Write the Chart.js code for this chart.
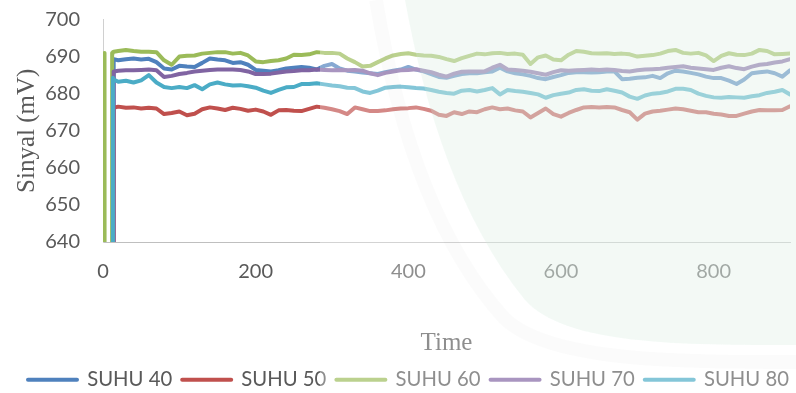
<!DOCTYPE html>
<html>
<head>
<meta charset="utf-8">
<script src="https://cdn.jsdelivr.net/npm/chart.js@4.4.1/dist/chart.umd.min.js"></script>
<style>
  html, body { margin: 0; padding: 0; background: #ffffff; overflow: hidden; }
  #wrap { width: 796px; height: 400px; position: relative; }
</style>
</head>
<body>
<div id="wrap"><canvas id="signal" width="796" height="400"></canvas></div>
<script>
// Sensor signal (mV) logged over time at five temperature settings.
const seriesNames = ['SUHU 40', 'SUHU 50', 'SUHU 60', 'SUHU 70', 'SUHU 80'];

const time = [0, 2, 3, 11, 12, 13, 14,
  20, 30, 40, 50, 60, 70, 80, 90, 100,
  110, 120, 130, 140, 150, 160, 170, 180, 190, 200,
  210, 220, 230, 240, 250, 260, 270, 280, 290, 300,
  310, 320, 330, 340, 350, 360, 370, 380, 390, 400,
  410, 420, 430, 440, 450, 460, 470, 480, 490, 500,
  510, 520, 530, 540, 550, 560, 570, 580, 590, 600,
  610, 620, 630, 640, 650, 660, 670, 680, 690, 700,
  710, 720, 730, 740, 750, 760, 770, 780, 790, 800,
  810, 820, 830, 840, 850, 860, 870, 880, 890, 900];

const suhu40 = [0, 0, 0, 0, 0, 0, 689.3,
  689, 689.3, 689.5, 689.2, 689.4, 688.5, 686.8, 686.5, 687.5,
  687.3, 687.2, 688.3, 689.5, 689.2, 689, 688.3, 688.5, 687.8, 686.4,
  686.2, 686, 686.3, 686.8, 687, 687.2, 687, 686.5, 687.5, 688,
  686.8, 686.2, 686, 685.7, 685.5, 685.3, 685.8, 686.2, 686.5, 687.2,
  686.5, 686, 685.3, 684.5, 684.3, 684.8, 685.3, 685.5, 685.5, 685.8,
  686, 687, 686, 685.5, 685.2, 684.8, 684.2, 683.9, 684.5, 685,
  685.6, 685.8, 685.8, 685.7, 685.8, 686, 686, 683.9, 684, 684.3,
  684.4, 684.8, 684.2, 685.5, 686.2, 686, 685.6, 685.2, 684.6, 684.2,
  684.2, 683.5, 682.6, 683.8, 685.5, 685.8, 686, 685.5, 684.6, 686.3];

const suhu50 = [0, 0, 0, 0, 0, 0, 676.2,
  676.5, 676.2, 676.3, 676, 676.2, 676, 674.5, 674.8, 675.2,
  674.2, 674.6, 675.8, 676.3, 676, 675.6, 676.2, 675.9, 675.4, 675.7,
  675.2, 674.3, 675.5, 675.6, 675.4, 675.3, 675.9, 676.5, 676.2, 675.8,
  675.3, 674.5, 676.3, 675.8, 675.3, 675.3, 675.5, 675.8, 676, 676.1,
  676.3, 675.9, 675.4, 674.3, 674, 675, 674.5, 675.2, 675, 675.8,
  676.3, 675.8, 676, 675.5, 675.2, 673.6, 674.8, 676, 674.5, 673.8,
  674.8, 675.6, 676.3, 676.4, 676.3, 676.4, 676.3, 675.6, 675, 673,
  674.6, 675.2, 675.4, 675.7, 676, 675.8, 675.4, 675, 675, 674.6,
  674.4, 674, 674, 674.6, 675.2, 675.6, 675.5, 675.5, 675.6, 676.6];

const suhu60 = [0, 691, 0, 0, 691, 691.2, 691.3,
  691.5, 691.8, 691.5, 691.3, 691.3, 691.2, 689, 687.8, 690,
  690.2, 690.3, 690.8, 691, 691.2, 691.2, 690.8, 691, 690.3, 688.7,
  688.5, 688.8, 689, 689.5, 690.5, 690.4, 690.6, 691.2, 691, 691,
  690.8, 689.5, 688.5, 687.3, 687.5, 688.5, 689.5, 690.3, 690.7, 690.9,
  690.5, 690.3, 690.2, 689.9, 689.3, 688.8, 689.6, 690.2, 690.8, 690.6,
  690.9, 691, 690.7, 690.8, 690.5, 688, 689.8, 690.3, 689.2, 689,
  690.5, 691.5, 691.3, 690.9, 690.8, 690.9, 690.7, 690.8, 690.6, 690,
  690.2, 690.4, 690.8, 691.5, 691.8, 691, 690.8, 691, 690.3, 688.8,
  690.2, 690.9, 690.5, 690.4, 690.8, 691.8, 691.5, 690.6, 690.7, 690.8];

const suhu70 = [0, 0, 0, 0, 0, 0, 686,
  686.2, 686.3, 686.3, 686.4, 686.5, 686.3, 684.5, 684.8, 685.3,
  685.6, 686, 686.2, 686.4, 686.5, 686.5, 686.5, 686.4, 686, 685.3,
  685.3, 685.4, 685.7, 686, 686.1, 686.3, 686.3, 686.5, 686.4, 686.3,
  686.4, 686.3, 686.4, 686.2, 685.5, 685, 685.6, 686, 686.3, 686.4,
  686.6, 686.2, 685.8, 685.1, 684.6, 685.4, 685.9, 686, 686, 686,
  687, 687.8, 686.5, 686.4, 686.2, 685.9, 685.5, 685.1, 685.8, 686.3,
  686.2, 686.3, 686.4, 686.5, 686.4, 686.5, 686.4, 686.1, 686, 686.3,
  686.5, 686.6, 686.7, 687, 687.2, 687.4, 687, 686.8, 686.6, 686.4,
  687, 687.4, 686.9, 686.6, 687.3, 687.8, 688, 688.4, 688.7, 689.3];

const suhu80 = [0, 0, 0, 0, 0, 684.3, 683.8,
  683.2, 683.5, 683, 683.6, 685, 683, 681.8, 681.5, 681.8,
  681.5, 682.3, 681.2, 682.5, 683, 682.5, 682.2, 682.3, 682, 681.6,
  680.8, 680.2, 681, 681.7, 681.8, 682.6, 682.6, 682.8, 682.5, 682.2,
  682, 681.6, 681.5, 680.6, 680.2, 680.8, 681.6, 681.8, 681.9, 681.7,
  681.5, 681.4, 681, 680.5, 680.2, 680, 680.8, 681, 680.6, 681,
  681.5, 679.8, 681, 680.7, 680.5, 680.2, 679.8, 678.9, 679.6, 680,
  680.3, 681, 681.2, 680.8, 680.7, 681.2, 680.8, 680.3, 679.2, 678.6,
  679.5, 680, 680.2, 680.6, 681.3, 681.3, 681, 680, 679.4, 679,
  678.9, 679.1, 679, 678.9, 679.3, 679.6, 680.2, 680.5, 681, 679.8];

const yTicks = [640, 650, 660, 670, 680, 690, 700];
const xTicks = [0, 200, 400, 600, 800];

const seriesValues = [suhu40, suhu50, suhu60, suhu70, suhu80];
const seriesColors = ['#4F81BD', '#C0504D', '#9BBB59', '#8064A2', '#4BACC6'];

const textGray = '#595959';

const datasets = seriesNames.map((name, i) => ({
  label: name,
  data: time.map((t, k) => ({ x: t, y: seriesValues[i][k] })),
  borderColor: seriesColors[i],
  backgroundColor: seriesColors[i],
  borderWidth: 4,
  borderJoinStyle: 'round',
  borderCapStyle: 'round',
  pointRadius: 0,
  pointHoverRadius: 0,
  tension: 0,
  // later series sit on top
  order: seriesNames.length - i
}));

// keep tick-label margins from pushing the plot area around
function noScalePadding(scale) {
  scale.paddingTop = 0;
  scale.paddingBottom = 0;
  scale.paddingLeft = 0;
  scale.paddingRight = 0;
}

// Faint printed-paper wash over the right part of the page
const paperWash = {
  id: 'paperWash',
  afterDraw(chart) {
    const ctx = chart.ctx;
    ctx.save();
    ctx.beginPath();
    ctx.moveTo(405, 0);
    ctx.bezierCurveTo(425, 110, 460, 220, 525, 300);
    ctx.bezierCurveTo(565, 345, 680, 345, 796, 345);
    ctx.lineTo(796, 0);
    ctx.closePath();
    ctx.fillStyle = 'rgba(190,225,205,0.28)';
    ctx.fill();

    ctx.beginPath();
    ctx.moveTo(376, 0);
    ctx.bezierCurveTo(396, 120, 434, 240, 504, 318);
    ctx.bezierCurveTo(549, 362, 680, 362, 796, 362);
    ctx.strokeStyle = 'rgba(0,0,0,0.025)';
    ctx.lineWidth = 14;
    ctx.stroke();

    ctx.fillStyle = 'rgba(255,255,255,0.32)';
    ctx.fillRect(320, 0, 476, 400);
    ctx.restore();
  }
};

new Chart(document.getElementById('signal'), {
  type: 'line',
  data: { datasets },
  plugins: [paperWash],
  options: {
    responsive: false,
    animation: false,
    devicePixelRatio: 1,
    layout: { padding: { top: 19.5, left: 18, right: -6, bottom: 0 } },
    plugins: {
      tooltip: { enabled: false },
      legend: {
        position: 'bottom',
        align: 'start',
        labels: {
          usePointStyle: true,
          pointStyle: 'line',
          pointStyleWidth: 49,
          padding: 10,
          color: textGray,
          font: { family: 'Lato', size: 20.3 },
          generateLabels(chart) {
            return chart.data.datasets.map((ds, i) => ({
              text: ds.label,
              fillStyle: ds.borderColor,
              strokeStyle: ds.borderColor,
              fontColor: textGray,
              lineWidth: 4,
              lineCap: 'round',
              pointStyle: 'line',
              hidden: false,
              datasetIndex: i
            }));
          }
        }
      }
    },
    scales: {
      x: {
        type: 'linear',
        min: 0,
        max: 900,
        afterFit(scale) { scale.height = 117.7; noScalePadding(scale); },
        afterBuildTicks(scale) { scale.ticks = xTicks.map(v => ({ value: v })); },
        grid: { display: false, drawTicks: false },
        border: { display: true, color: '#bfbfbf', width: 1 },
        ticks: { padding: 18, color: textGray, font: { family: 'Lato', size: 20 }, maxRotation: 0 },
        title: {
          display: true,
          text: 'Time',
          color: textGray,
          font: { family: 'Liberation Serif', size: 25 },
          padding: { top: 0, bottom: 1 }
        }
      },
      y: {
        type: 'linear',
        position: 'left',
        min: 640,
        max: 700,
        afterFit(scale) { scale.width = 85; noScalePadding(scale); },
        afterBuildTicks(scale) { scale.ticks = yTicks.map(v => ({ value: v })); },
        grid: { display: false, drawTicks: false },
        border: { display: true, color: '#d0d0d0', width: 1 },
        ticks: { padding: 23, color: textGray, font: { family: 'Lato', size: 20 } },
        title: {
          display: true,
          text: 'Sinyal (mV)',
          color: textGray,
          font: { family: 'Liberation Serif', size: 25 },
          padding: { top: -5.5, bottom: 0 }
        }
      },
      // empty right-hand margin column
      gutter: {
        type: 'linear',
        position: 'right',
        display: true,
        afterFit(scale) { scale.width = 12; noScalePadding(scale); },
        grid: { display: false, drawTicks: false },
        border: { display: false },
        ticks: { display: false }
      }
    }
  }
});
</script>
</body>
</html>
